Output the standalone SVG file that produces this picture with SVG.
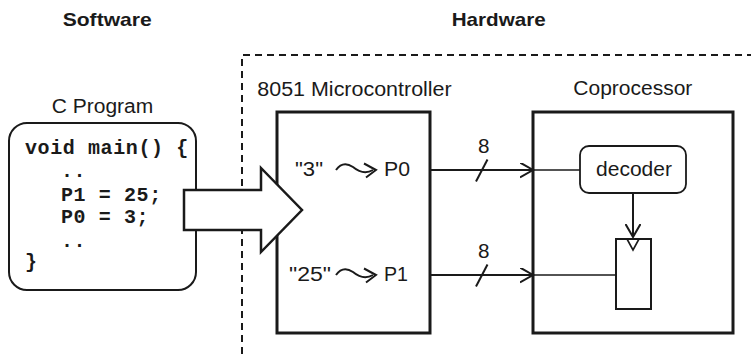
<svg xmlns="http://www.w3.org/2000/svg" width="751" height="354" viewBox="0 0 751 354">
<style>
.t{font-family:"Liberation Sans",Arial,sans-serif;fill:#1a1a1a}
.h{font-weight:bold;font-size:19px}
.l{font-size:19.5px}
.code{font-family:"Liberation Mono","Courier New",monospace;font-weight:bold;font-size:20px;letter-spacing:0.6px;fill:#1a1a1a}
.box{fill:#fff;stroke:#1a1a1a;stroke-width:3}
.ln{fill:none;stroke:#1a1a1a;stroke-width:2}
.thin{fill:none;stroke:#1a1a1a;stroke-width:1.6}
</style>
<defs>
<marker id="ah" markerWidth="16" markerHeight="16" refX="13" refY="7.5" orient="auto" markerUnits="userSpaceOnUse">
<path d="M0,0 L13,7.5 L0,15" fill="none" stroke="#1a1a1a" stroke-width="2"/>
</marker>
</defs>
<rect width="751" height="354" fill="#fff"/>
<text class="t h" x="62.7" y="26" textLength="89" lengthAdjust="spacingAndGlyphs">Software</text>
<text class="t h" x="451.7" y="26" textLength="94" lengthAdjust="spacingAndGlyphs">Hardware</text>
<g id="hw-boundary">
<path d="M242,354 L242,55 L751,55" fill="none" stroke="#1a1a1a" stroke-width="2" stroke-dasharray="7,5"/>
</g>
<g id="c-program">
<text class="t l" x="51.7" y="113" textLength="101.6" lengthAdjust="spacingAndGlyphs">C Program</text>
<rect x="9" y="123" width="187" height="167" rx="18" fill="#fff" stroke="#1a1a1a" stroke-width="2"/>
<text class="code" x="25" y="154">void main() {</text>
<text class="code" x="61" y="177">..</text>
<text class="code" x="61" y="201">P1 = 25;</text>
<text class="code" x="61" y="223">P0 = 3;</text>
<text class="code" x="61" y="247">..</text>
<text class="code" x="25" y="268">}</text>
</g>
<g id="microcontroller">
<text class="t l" x="257.3" y="95.7" textLength="194.4" lengthAdjust="spacingAndGlyphs">8051 Microcontroller</text>
<rect class="box" x="277" y="112" width="153" height="221"/>
<text class="t l" x="295" y="176" textLength="28" lengthAdjust="spacingAndGlyphs">"3"</text>
<path class="ln" d="M336,170 C341,163 347,163 353,167 C359,172 366,174 373,170"/>
<path class="ln" d="M364,163.5 L376,170 L366,177.5"/>
<text class="t l" x="384" y="176" textLength="26" lengthAdjust="spacingAndGlyphs">P0</text>
<text class="t l" x="289" y="281" textLength="42" lengthAdjust="spacingAndGlyphs">"25"</text>
<path class="ln" d="M336,275 C341,268 347,268 353,272 C359,277 366,279 373,275"/>
<path class="ln" d="M364,268.5 L376,275 L366,282.5"/>
<text class="t l" x="384" y="281" textLength="24" lengthAdjust="spacingAndGlyphs">P1</text>
</g>
<g id="big-arrow">
<polygon points="184,190 261,190 261,168 302,210 261,252 261,230 184,230" fill="#fff" stroke="#1a1a1a" stroke-width="2.5" stroke-linejoin="miter"/>
</g>
<g id="coprocessor">
<text class="t l" x="573.3" y="95" textLength="119" lengthAdjust="spacingAndGlyphs">Coprocessor</text>
<rect class="box" x="533" y="112" width="200" height="221" stroke-width="3.5"/>
</g>
<g id="decoder">
<rect x="580" y="146" width="106" height="47" rx="9" fill="#fff" stroke="#1a1a1a" stroke-width="1.8"/>
<text class="t l" x="634" y="176" text-anchor="middle" textLength="76" lengthAdjust="spacingAndGlyphs">decoder</text>
</g>
<g id="register">
<rect x="616" y="239" width="35" height="70" fill="#fff" stroke="#1a1a1a" stroke-width="2"/>
<path class="thin" d="M627,239 L633,250 L639,239"/>
</g>
<g id="connectors">
<line class="ln" x1="430" y1="170" x2="533" y2="170" marker-end="url(#ah)"/>
<line class="thin" x1="533" y1="170" x2="580" y2="170"/>
<line class="ln" x1="476" y1="181.5" x2="487.5" y2="159.5"/>
<text class="t l" x="478" y="153" textLength="11.5" lengthAdjust="spacingAndGlyphs">8</text>
<line class="ln" x1="430" y1="275" x2="533" y2="275" marker-end="url(#ah)"/>
<line class="thin" x1="533" y1="275" x2="616" y2="275"/>
<line class="ln" x1="476" y1="286.5" x2="487.5" y2="264.5"/>
<text class="t l" x="478" y="258" textLength="11.5" lengthAdjust="spacingAndGlyphs">8</text>
<line class="ln" x1="633" y1="193" x2="633" y2="237" marker-end="url(#ah)"/>
</g>
</svg>
